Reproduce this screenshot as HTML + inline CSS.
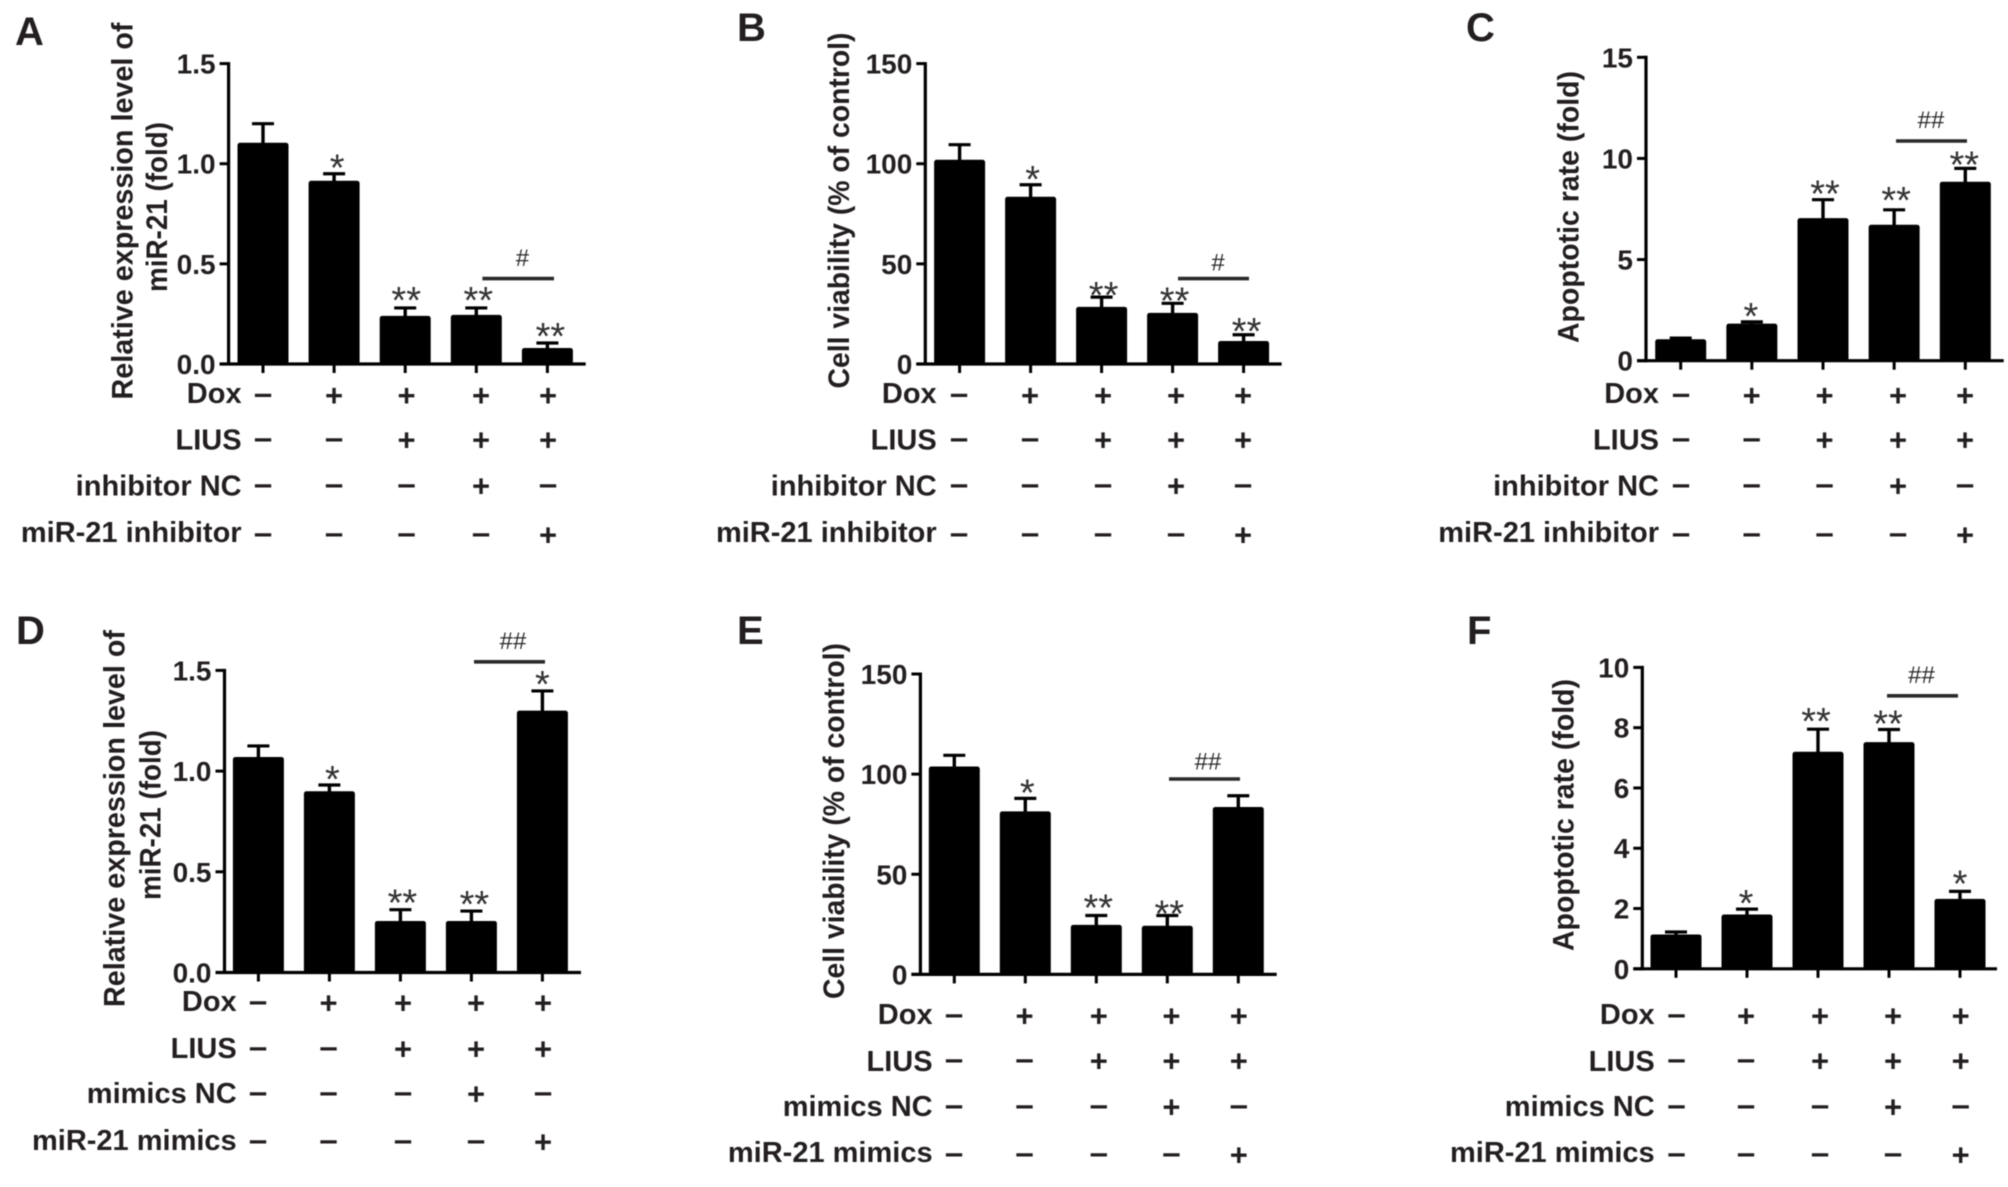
<!DOCTYPE html>
<html lang="en">
<head>
<meta charset="utf-8">
<title>miR-21 expression, viability and apoptosis panels</title>
<style>
html,body{margin:0;padding:0;background:#fff;width:2008px;height:1187px;overflow:hidden}
svg{display:block;filter:blur(0.6px)}
text{font-family:"Liberation Sans",Arial,sans-serif;fill:#231f20}
</style>
</head>
<body>
<svg id="figure" xmlns="http://www.w3.org/2000/svg" width="2008" height="1187" viewBox="0 0 2008 1187"></svg>
<script>
const categories = ['control', 'dox', 'dox-lius', 'dox-lius-nc', 'dox-lius-agent'];

const doxRow = ['-', '+', '+', '+', '+'];
const liusRow = ['-', '-', '+', '+', '+'];
const ncRow = ['-', '-', '-', '+', '-'];
const agentRow = ['-', '-', '-', '-', '+'];

const inhibitorRowLabels = ['Dox', 'LIUS', 'inhibitor NC', 'miR-21 inhibitor'];
const mimicsRowLabels = ['Dox', 'LIUS', 'mimics NC', 'miR-21 mimics'];

const panelAMeans = [1.105, 0.915, 0.24, 0.245, 0.08];
const panelAErrorTops = [1.20, 0.95, 0.28, 0.28, 0.105];
const panelATicks = ['0.0', '0.5', '1.0', '1.5'];
const panelAStars = ['', '*', '**', '**', '**'];

const panelBMeans = [102, 83.5, 28.5, 25.5, 11.5];
const panelBErrorTops = [109.5, 89.5, 33.4, 30.3, 14.6];
const panelBTicks = ['0', '50', '100', '150'];
const panelBStars = ['', '*', '**', '**', '**'];

const panelCMeans = [1.06, 1.83, 7.05, 6.72, 8.85];
const panelCErrorTops = [1.12, 1.92, 7.96, 7.46, 9.51];
const panelCTicks = ['0', '5', '10', '15'];
const panelCStars = ['', '*', '**', '**', '**'];

const panelDMeans = [1.07, 0.9, 0.256, 0.256, 1.3];
const panelDErrorTops = [1.125, 0.931, 0.312, 0.305, 1.398];
const panelDTicks = ['0.0', '0.5', '1.0', '1.5'];
const panelDStars = ['', '*', '**', '**', '*'];

const panelEMeans = [103.8, 81.4, 24.7, 24.3, 83.6];
const panelEErrorTops = [109.4, 87.9, 29.4, 29.4, 89.2];
const panelETicks = ['0', '50', '100', '150'];
const panelEStars = ['', '*', '**', '**', ''];

const panelFMeans = [1.14, 1.80, 7.2, 7.52, 2.32];
const panelFErrorTops = [1.22, 1.98, 7.95, 7.94, 2.57];
const panelFTicks = ['0', '2', '4', '6', '8', '10'];
const panelFStars = ['', '*', '**', '**', '*'];

const expressionTitle = ['Relative expression level of', 'miR-21 (fold)'];
const viabilityTitle = ['Cell viability (% of control)'];
const apoptosisTitle = ['Apoptotic rate (fold)'];

const panels = [
  { id: 'a', letter: 'A', letterX: 15, letterY: 45, means: panelAMeans, tops: panelAErrorTops, ticks: panelATicks, stars: panelAStars,
    rowLabels: inhibitorRowLabels, title: expressionTitle, mark: '#',
    layout: { axisX: 228.6, topY: 63.6, baseY: 364, rightX: 585.7, firstBar: 263, barStep: 71.1, labelRight: 241.6,
      rowCenters: [395.5, 440, 486, 535], rowBaselines: [403, 449.5, 495.5, 542], symbolX: [263, 334, 406.5, 481, 548],
      titleBaselines: [132.6, 167], titleCenters: [211, 207], titleLengths: [377, 170],
      starGaps: [0, 12, 14, 14, 13], starShifts: [0, 3, 1, 2, 3], sigX1: 482.4, sigX2: 554, sigY: 278.6, markX: 522.4, markY: 258 } },
  { id: 'b', letter: 'B', letterX: 737, letterY: 41, means: panelBMeans, tops: panelBErrorTops, ticks: panelBTicks, stars: panelBStars,
    rowLabels: inhibitorRowLabels, title: viabilityTitle, mark: '#',
    layout: { axisX: 925.3, topY: 63.6, baseY: 364, rightX: 1281.6, firstBar: 959.6, barStep: 71, labelRight: 936.7,
      rowCenters: [395.5, 440, 486, 535], rowBaselines: [403, 449.5, 495.5, 542], symbolX: [959, 1030, 1103, 1176, 1243],
      titleBaselines: [849], titleCenters: [210.5], titleLengths: [356],
      starGaps: [0, 12, 8, 9, 10], starShifts: [0, 2, 2, 2, 3], sigX1: 1178, sigX2: 1249, sigY: 278.6, markX: 1218, markY: 262.7 } },
  { id: 'c', letter: 'C', letterX: 1466, letterY: 41, means: panelCMeans, tops: panelCErrorTops, ticks: panelCTicks, stars: panelCStars,
    rowLabels: inhibitorRowLabels, title: apoptosisTitle, mark: '##',
    layout: { axisX: 1646, topY: 57.3, baseY: 360.7, rightX: 2003.7, firstBar: 1680.7, barStep: 71.15, labelRight: 1659,
      rowCenters: [395.5, 440, 486, 535], rowBaselines: [403, 449.5, 495.5, 542], symbolX: [1681, 1751.7, 1824.6, 1898, 1965],
      titleBaselines: [1578.5], titleCenters: [207], titleLengths: [272],
      starGaps: [0, 12, 12, 16, 10], starShifts: [0, -1, 2, 2, -1], sigX1: 1896, sigX2: 1967, sigY: 141, markX: 1931, markY: 120 } },
  { id: 'd', letter: 'D', letterX: 16, letterY: 644, means: panelDMeans, tops: panelDErrorTops, ticks: panelDTicks, stars: panelDStars,
    rowLabels: mimicsRowLabels, title: expressionTitle, mark: '##',
    layout: { axisX: 224.5, topY: 670.4, baseY: 972.5, rightX: 581, firstBar: 258.4, barStep: 71, labelRight: 236.7,
      rowCenters: [1003, 1049, 1094, 1142], rowBaselines: [1011, 1058, 1103, 1150], symbolX: [258, 328.6, 403, 476, 543],
      titleBaselines: [124.5, 160.5], titleCenters: [818.5, 815], titleLengths: [377, 170],
      starGaps: [0, 12, 13, 13, 13], starShifts: [0, 3, 2, 3, 0], sigX1: 474, sigX2: 545, sigY: 661.8, markX: 513, markY: 641 } },
  { id: 'e', letter: 'E', letterX: 737, letterY: 644, means: panelEMeans, tops: panelEErrorTops, ticks: panelETicks, stars: panelEStars,
    rowLabels: mimicsRowLabels, title: viabilityTitle, mark: '##',
    layout: { axisX: 920.4, topY: 674, baseY: 974.4, rightX: 1276.7, firstBar: 954.3, barStep: 71, labelRight: 932.6,
      rowCenters: [1016, 1061, 1107, 1155], rowBaselines: [1024, 1071, 1116, 1162], symbolX: [954, 1024.5, 1098.8, 1171.4, 1238.8],
      titleBaselines: [844], titleCenters: [821], titleLengths: [356],
      starGaps: [0, 12, 14, 8, 0], starShifts: [0, 2, 2, 2, 0], sigX1: 1169, sigX2: 1240, sigY: 779, markX: 1208, markY: 761.7 } },
  { id: 'f', letter: 'F', letterX: 1467, letterY: 644, means: panelFMeans, tops: panelFErrorTops, ticks: panelFTicks, stars: panelFStars,
    rowLabels: mimicsRowLabels, title: apoptosisTitle, mark: '##',
    layout: { axisX: 1642.3, topY: 667.4, baseY: 968.8, rightX: 1997, firstBar: 1676, barStep: 71, labelRight: 1654.7,
      rowCenters: [1016, 1061, 1107, 1155], rowBaselines: [1024, 1071, 1116, 1162], symbolX: [1676.5, 1746, 1820, 1893, 1960.7],
      titleBaselines: [1573.5], titleCenters: [815], titleLengths: [272],
      starGaps: [0, 12, 14, 12, 14], starShifts: [0, -1, -2, -1, 0], sigX1: 1887, sigX2: 1958, sigY: 695.8, markX: 1921.5, markY: 675 } }
];

const rows = [doxRow, liusRow, ncRow, agentRow];
const rowNames = ['dox', 'lius', 'nc', 'agent'];
const BAR_WIDTH = 51;
const CAP_WIDTH = 22;
const figure = document.getElementById('figure');

function svgEl(tag, parent) {
  const node = document.createElementNS('http://www.w3.org/2000/svg', tag);
  parent.appendChild(node);
  return node;
}
function line(parent, x1, y1, x2, y2, width, color) {
  const l = svgEl('line', parent);
  l.setAttribute('x1', x1);
  l.setAttribute('y1', y1);
  l.setAttribute('x2', x2);
  l.setAttribute('y2', y2);
  l.setAttribute('stroke', color);
  l.setAttribute('stroke-width', width);
  return l;
}
function label(parent, str, x, y, size, weight, anchor) {
  const t = svgEl('text', parent);
  t.setAttribute('x', x);
  t.setAttribute('y', y);
  t.setAttribute('font-size', size);
  t.setAttribute('font-weight', weight);
  t.setAttribute('text-anchor', anchor);
  t.textContent = str;
  return t;
}
function makeYScale(panel) {
  const max = parseFloat(panel.ticks[panel.ticks.length - 1]);
  const g = panel.layout;
  return function (v) { return g.baseY - (v / max) * (g.baseY - g.topY); };
}
function makeXScale(panel) {
  const g = panel.layout;
  return function (i) { return g.firstBar + i * g.barStep; };
}

panels.forEach(function (panel) {
  const g = panel.layout;
  const yScale = makeYScale(panel);
  const xScale = makeXScale(panel);

  const group = svgEl('g', figure);
  
  

  const letter = label(group, panel.letter, panel.letterX, panel.letterY, 40, 'bold', 'start');
  
  

  panel.title.forEach(function (str, i) {
    const x = g.titleBaselines[i];
    const y = g.titleCenters[i];
    const title = label(group, str, 0, 0, 30, 'bold', 'middle');
    title.setAttribute('transform', 'translate(' + x + ' ' + y + ') rotate(-90)');
    title.setAttribute('textLength', g.titleLengths[i]);
    title.setAttribute('lengthAdjust', 'spacingAndGlyphs');
    
    
  });

  panel.means.forEach(function (value, i) {
    const cx = xScale(i);
    const top = yScale(value);
    const capY = yScale(panel.tops[i]);

    const stem = line(group, cx, top + 1, cx, capY, 3.4, '#000');
    
    

    const cap = line(group, cx - CAP_WIDTH / 2, capY, cx + CAP_WIDTH / 2, capY, 3.2, '#000');
    
    

    const bar = svgEl('rect', group);
    bar.setAttribute('x', cx - BAR_WIDTH / 2);
    bar.setAttribute('y', top);
    bar.setAttribute('width', BAR_WIDTH);
    bar.setAttribute('height', g.baseY - top);
    bar.setAttribute('rx', 2.5);
    bar.setAttribute('fill', '#000');
    
    

    if (panel.stars[i]) {
      const star = label(group, panel.stars[i], cx + g.starShifts[i], capY - g.starGaps[i] + 19, 38, 'normal', 'middle');
      star.setAttribute('style', 'fill:#333');
      
      
    }

    const xTick = line(group, cx, g.baseY, cx, g.baseY + 9, 3, '#000');
    
    
  });

  const yAxis = line(group, g.axisX, g.topY - 1.5, g.axisX, g.baseY + 1.5, 3.2, '#000');
  
  

  const xAxis = line(group, g.axisX - 9, g.baseY, g.rightX, g.baseY, 3.2, '#000');
  
  

  panel.ticks.forEach(function (tickText) {
    const y = yScale(parseFloat(tickText));
    const tick = line(group, g.axisX - 9, y, g.axisX, y, 3, '#000');
    
    

    const tickLabel = label(group, tickText, g.axisX - 13, y + 10, 28, 'bold', 'end');
    
    
  });

  const sig = line(group, g.sigX1, g.sigY, g.sigX2, g.sigY, 3.6, '#2a2a2a');
  
  

  const mark = label(group, panel.mark, g.markX, g.markY + 8, 24, 'normal', 'middle');
  mark.setAttribute('style', 'fill:#2a2a2a');
  
  

  rows.forEach(function (row, r) {
    const rowLabel = label(group, panel.rowLabels[r], g.labelRight, g.rowBaselines[r], 29, 'bold', 'end');
    
    

    row.forEach(function (sign, c) {
      const isPlus = sign === '+';
      const glyph = isPlus ? '+' : '\u2013';
      const offset = isPlus ? 10.5 : 9;
      const size = isPlus ? 31 : 33;
      const sym = label(group, glyph, g.symbolX[c], g.rowCenters[r] + offset, size, 'bold', 'middle');
      
      
    });
  });
});
</script>
</body>
</html>
